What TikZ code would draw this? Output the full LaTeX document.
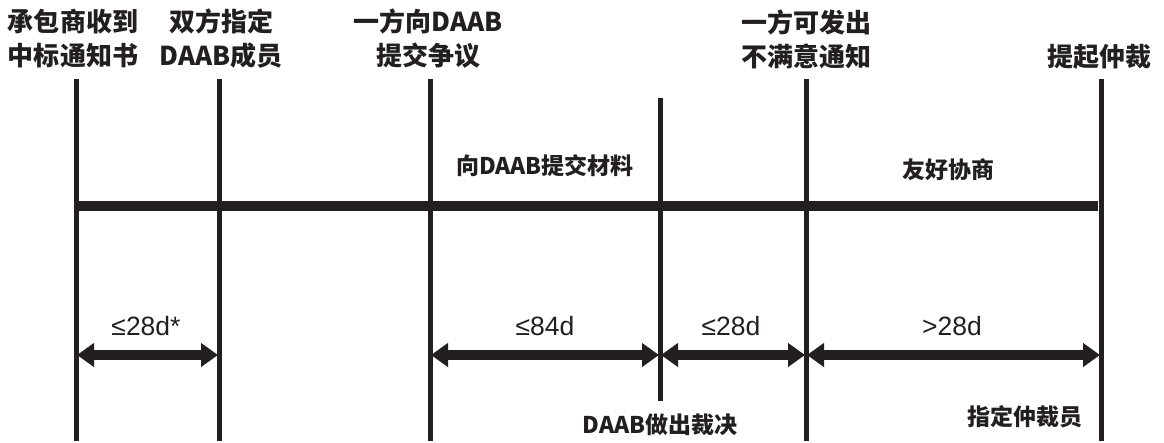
\documentclass[tikz,border=0pt]{standalone}
\usepackage{fontspec}
\setmainfont{Liberation Sans}
\newfontfamily\cjk{Noto Sans CJK SC}
\usetikzlibrary{arrows.meta}
\definecolor{ink}{HTML}{231F20}
\tikzset{
  vline/.style={draw=ink, line width=5pt},
  mainbar/.style={draw=ink, line width=10pt},
  dimarrow/.style={draw=ink, line width=10pt,
    {Triangle[length=17pt,width=23pt]}-{Triangle[length=17pt,width=23pt]}},
  head/.style={font=\cjk\bfseries\fontsize{26}{34}\selectfont, text=ink, align=center, inner sep=0pt},
  midlabel/.style={font=\cjk\bfseries\fontsize{23}{28}\selectfont, text=ink, inner sep=0pt},
  dimlabel/.style={font=\fontsize{26.5}{30}\selectfont, text=ink, inner sep=0pt}
}
\begin{document}
\begin{tikzpicture}[x=1pt,y=-1pt]
\useasboundingbox (0,0) rectangle (1164,442);
% line coordinates
\coordinate (t1) at (76,79);   \coordinate (b1) at (76,441);
\coordinate (t2) at (219,79);  \coordinate (b2) at (219,441);
\coordinate (t3) at (430,79);  \coordinate (b3) at (430,441);
\coordinate (t4) at (660,98);  \coordinate (b4) at (660,401);
\coordinate (t5) at (806,79);  \coordinate (b5) at (806,441);
\coordinate (t6) at (1101,79); \coordinate (b6) at (1101,441);
% vertical lines
\foreach \i in {1,...,6} { \draw[vline] (t\i) -- (b\i); }
% main bar
\coordinate (barL) at (76,206);
\coordinate (barR) at (1098,206);
\draw[mainbar] (barL) -- (barR);
% arrow anchors
\coordinate (a1) at (76,355);
\coordinate (a2) at (219,355);
\coordinate (a3) at (430,355);
\coordinate (a4) at (660,355);
\coordinate (a5) at (806,355);
\coordinate (a6) at (1101,355);
\draw[dimarrow] ([xshift=1pt]a1) -- ([xshift=-1pt]a2);
\draw[dimarrow] ([xshift=1pt]a3) -- ([xshift=-1pt]a4);
\draw[dimarrow] ([xshift=1pt]a4) -- ([xshift=-1pt]a5);
\draw[dimarrow] ([xshift=1pt]a5) -- ([xshift=-1pt]a6);
% headings
\node[head] (h1) at (73,39) {承包商收到\\中标通知书};
\node[head] (h2) at (221,39) {双方指定\\DAAB成员};
\node[head] (h3) at (428,39) {一方向DAAB\\提交争议};
\node[head] (h4) at (806,39) {一方可发出\\不满意通知};
\node[head] (h5) at (1099,57) {提起仲裁};
% middle labels
\node[midlabel] (m1) at (545,166) {向DAAB提交材料};
\node[midlabel] (m2) at (948,170) {友好协商};
% bottom labels
\node[midlabel] (d1) at (660,425) {DAAB做出裁决};
\node[midlabel] (d2) at (1025,417) {指定仲裁员};
% dimension labels
\node[dimlabel] (l1) at (146,326) {≤28d*};
\node[dimlabel] (l2) at (545,326) {≤84d};
\node[dimlabel] (l3) at (731,326) {≤28d};
\node[dimlabel] (l4) at (952,326) {>28d};
\end{tikzpicture}
\end{document}
